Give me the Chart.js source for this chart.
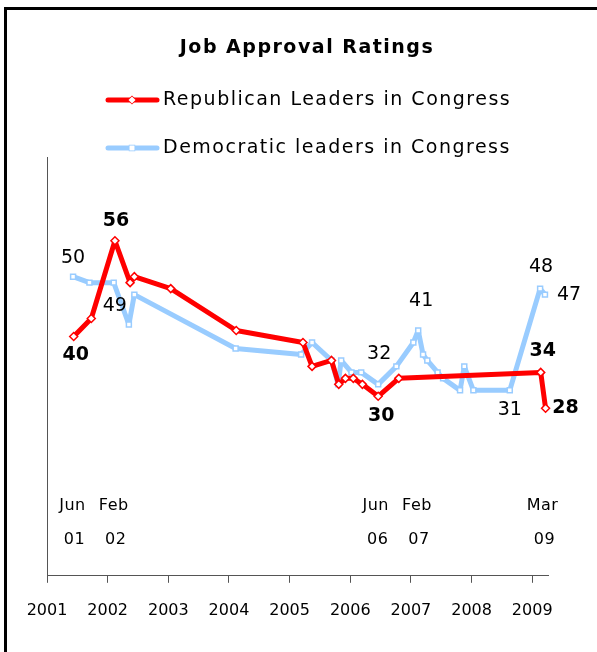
<!DOCTYPE html>
<html>
<head>
<meta charset="utf-8">
<script src="https://cdn.jsdelivr.net/npm/chart.js@4/dist/chart.umd.min.js"></script>
<style>
  html, body { margin: 0; padding: 0; background: #fff; }
  #wrap { position: relative; width: 597px; height: 652px; overflow: hidden; }
  #frame { position: absolute; left: 4px; top: 7px; width: 620px; height: 700px; border-left: 3px solid #000; border-top: 3px solid #000; }
  canvas { position: absolute; left: 0; top: 0; }
</style>
</head>
<body>
<div id="wrap">
  <div id="frame"></div>
  <canvas id="chart" width="597" height="652"></canvas>
</div>
<script>
// decimal years
const repDates = [2001.44, 2001.73, 2002.12, 2002.37, 2002.44, 2003.04, 2004.12, 2005.22, 2005.37, 2005.69, 2005.81, 2005.92, 2006.05, 2006.20, 2006.46, 2006.80, 2009.14, 2009.22];
const repValues = [40, 43, 56, 49, 50, 48, 41, 39, 35, 36, 32, 33, 33, 32, 30, 33, 34, 28];

const demDates = [2001.43, 2001.70, 2002.10, 2002.35, 2002.44, 2004.11, 2005.19, 2005.37, 2005.69, 2005.80, 2005.85, 2006.02, 2006.18, 2006.46, 2006.76, 2007.04, 2007.12, 2007.20, 2007.27, 2007.44, 2007.53, 2007.81, 2007.88, 2008.03, 2008.63, 2009.13, 2009.21];
const demValues = [50, 49, 49, 42, 47, 38, 37, 39, 36, 32, 36, 34, 34, 32, 35, 39, 41, 37, 36, 34, 33, 31, 35, 31, 31, 48, 47];

const yearTicks = [2001, 2002, 2003, 2004, 2005, 2006, 2007, 2008, 2009];
const periodDates = [2001.42, 2002.1, 2006.42, 2007.1, 2009.17];
const periodMonths = ["Jun", "Feb", "Jun", "Feb", "Mar"];
const periodYears = ["01", "02", "06", "07", "09"];

const repLabelIdx = [0, 2, 14, 16, 17];
const demLabelIdx = [0, 2, 13, 16, 24, 25, 26];

const seriesNames = ["Republican Leaders in Congress", "Democratic leaders in Congress"];
const RED = "#ff0000";
const BLUE = "#99ccff";
const FONT = "'DejaVu Sans', sans-serif";

function toPoints(dates, values) {
  return dates.map((d, i) => ({ x: d, y: values[i] }));
}

// label offsets from the point, in px
const repOffsets = { 0: [2, 19], 2: [1, -20], 14: [3, 20], 16: [2, -21], 17: [20, 0] };
const demOffsets = { 0: [0, -19], 2: [1, 23], 13: [1, -30], 16: [3, -29], 24: [0, 20], 25: [1, -22], 26: [24, 0] };

const textPlugin = {
  id: "texts",
  afterDatasetsDraw(chart) {
    const ctx = chart.ctx;
    const xs = chart.scales.x;
    const ys = chart.scales.y;
    const area = chart.chartArea;
    ctx.save();
    ctx.textAlign = "center";
    ctx.textBaseline = "middle";
    ctx.fillStyle = "#000";

    // title
    ctx.font = "bold 19px " + FONT;
    ctx.letterSpacing = "1.5px";
    ctx.fillText("Job Approval Ratings", 307, 48);

    // legend
    const legend = [[RED, "rectRot", 100], [BLUE, "rect", 148]];
    legend.forEach(([color, style, y], i) => {
      ctx.strokeStyle = color;
      ctx.lineWidth = 5;
      ctx.lineCap = "round";
      ctx.beginPath();
      ctx.moveTo(108, y);
      ctx.lineTo(157, y);
      ctx.stroke();
      ctx.fillStyle = "#fff";
      ctx.lineWidth = 1.5;
      Chart.helpers.drawPoint(ctx, { pointStyle: style, radius: 3.5, borderWidth: 1.5 }, 132, y);
      ctx.fill();
      ctx.fillStyle = "#000";
      ctx.textAlign = "left";
      ctx.font = "19px " + FONT;
      ctx.letterSpacing = "1.5px";
      ctx.fillText(seriesNames[i], 163, y);
    });

    // point value labels
    ctx.letterSpacing = "0px";
    ctx.textAlign = "center";
    ctx.font = "bold 19px " + FONT;
    repLabelIdx.forEach(i => {
      const [dx, dy] = repOffsets[i];
      ctx.fillText(String(repValues[i]), xs.getPixelForValue(repDates[i]) + dx, ys.getPixelForValue(repValues[i]) + dy);
    });
    ctx.font = "19px " + FONT;
    demLabelIdx.forEach(i => {
      const [dx, dy] = demOffsets[i];
      ctx.fillText(String(demValues[i]), xs.getPixelForValue(demDates[i]) + dx, ys.getPixelForValue(demValues[i]) + dy);
    });

    // period markers above the axis
    ctx.font = "16px " + FONT;
    ctx.letterSpacing = "0.5px";
    periodDates.forEach((d, i) => {
      const px = xs.getPixelForValue(d);
      ctx.fillText(periodMonths[i], px, area.bottom - 70);
      ctx.fillText(periodYears[i], px + 2, area.bottom - 36);
    });
    ctx.restore();
  }
};

new Chart(document.getElementById("chart"), {
  type: "line",
  data: {
    datasets: [
      {
        label: seriesNames[0],
        data: toPoints(repDates, repValues),
        borderColor: RED,
        borderWidth: 5,
        borderJoinStyle: "round",
        pointStyle: "rectRot",
        pointRadius: 4,
        pointBorderWidth: 1.5,
        pointBackgroundColor: "#fff",
        pointBorderColor: RED,
        order: 0
      },
      {
        label: seriesNames[1],
        data: toPoints(demDates, demValues),
        borderColor: BLUE,
        borderWidth: 5,
        borderJoinStyle: "round",
        pointStyle: "rect",
        pointRadius: 3.5,
        pointBorderWidth: 1.5,
        pointBackgroundColor: "#fff",
        pointBorderColor: BLUE,
        order: 1
      }
    ]
  },
  options: {
    responsive: false,
    animation: false,
    clip: false,
    layout: { padding: { left: 47, top: 157, right: 49, bottom: 14 } },
    plugins: {
      legend: { display: false },
      tooltip: { enabled: false }
    },
    scales: {
      x: {
        type: "linear",
        min: 2001,
        max: 2009.26,
        afterBuildTicks: axis => { axis.ticks = yearTicks.map(v => ({ value: v })); },
        ticks: {
          callback: v => String(v),
          color: "#000",
          font: { family: FONT, size: 16 },
          padding: 18,
          maxRotation: 0,
          autoSkip: false
        },
        grid: { drawOnChartArea: false, drawTicks: true, tickLength: 7, color: "#555" },
        border: { color: "#555", width: 1 }
      },
      y: {
        min: 0,
        max: 70,
        ticks: { display: false },
        grid: { drawOnChartArea: false, drawTicks: false },
        border: { color: "#555", width: 1 }
      }
    }
  },
  plugins: [textPlugin]
});
</script>
</body>
</html>
